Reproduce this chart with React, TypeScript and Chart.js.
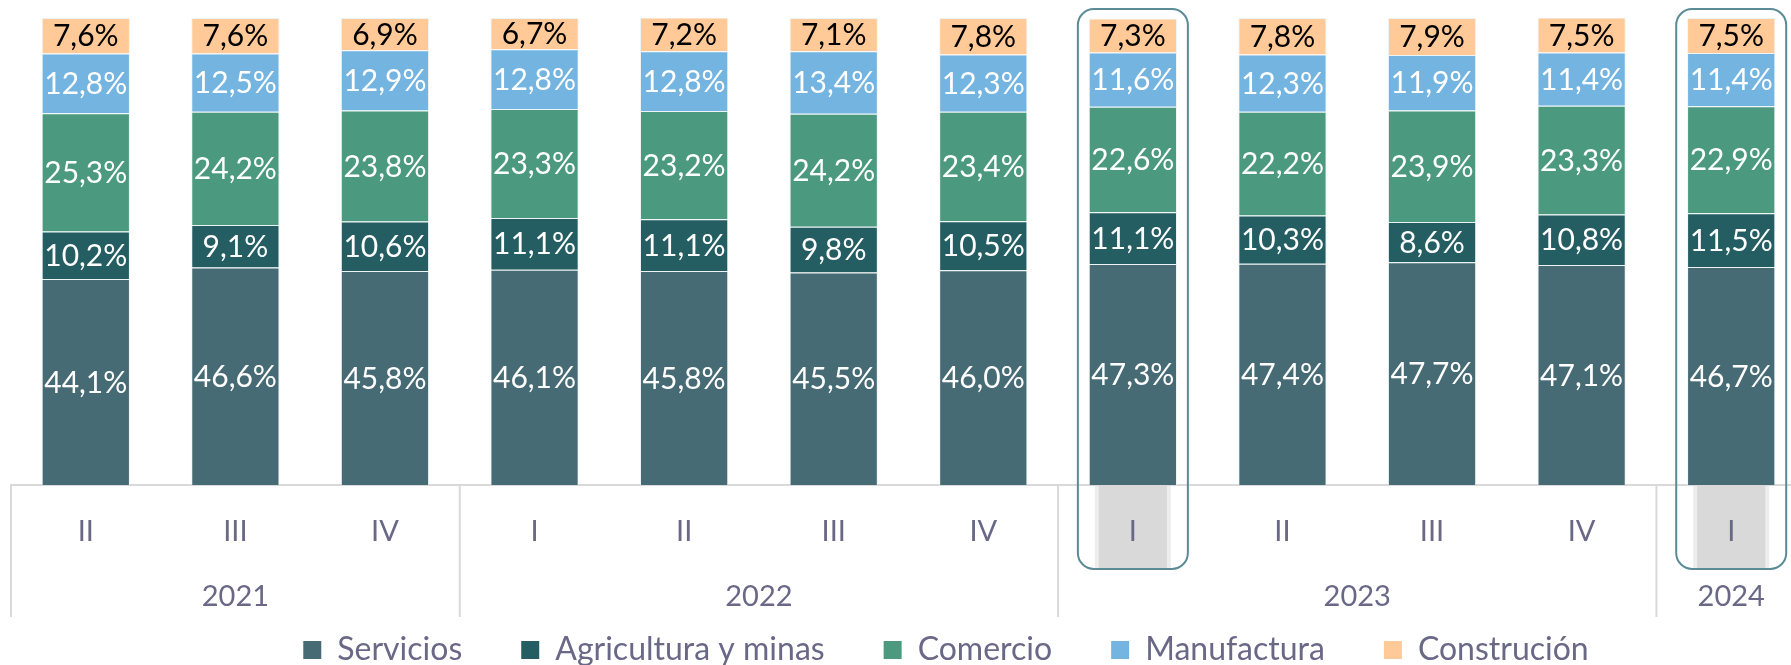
import React, { useEffect, useRef } from "react";
import { Chart, registerables } from "chart.js";

Chart.register(...registerables);

const quarters = ["II", "III", "IV", "I", "II", "III", "IV", "I", "II", "III", "IV", "I"];
const yearOfBar = ["2021", "2021", "2021", "2022", "2022", "2022", "2022", "2023", "2023", "2023", "2023", "2024"];
const years = ["2021", "2022", "2023", "2024"];

const servicios = [44.1, 46.6, 45.8, 46.1, 45.8, 45.5, 46.0, 47.3, 47.4, 47.7, 47.1, 46.7];
const agricultura = [10.2, 9.1, 10.6, 11.1, 11.1, 9.8, 10.5, 11.1, 10.3, 8.6, 10.8, 11.5];
const comercio = [25.3, 24.2, 23.8, 23.3, 23.2, 24.2, 23.4, 22.6, 22.2, 23.9, 23.3, 22.9];
const manufactura = [12.8, 12.5, 12.9, 12.8, 12.8, 13.4, 12.3, 11.6, 12.3, 11.9, 11.4, 11.4];
const construccion = [7.6, 7.6, 6.9, 6.7, 7.2, 7.1, 7.8, 7.3, 7.8, 7.9, 7.5, 7.5];

const seriesNames = ["Servicios", "Agricultura y minas", "Comercio", "Manufactura", "Construción"];
const seriesColors = ["#476b74", "#245e63", "#4b9a7f", "#74b4e1", "#ffca97"];
const labelColors = ["#ffffff", "#ffffff", "#ffffff", "#ffffff", "#000000"];
const highlighted = [7, 11];

const FONT = "'Century Gothic', Lato, sans-serif";
const TEXT = "#6b6887";
const GRID = "#d9d9d9";
const LEGEND_PAD = 59;

const fmt = (v: number) => v.toFixed(1).replace(".", ",") + "%";

const decoPlugin = {
  id: "deco",
  beforeDraw(chart: any) {
    const { ctx, chartArea, scales } = chart;
    const x = scales.x;
    ctx.save();
    highlighted.forEach((i) => {
      const cx = x.getPixelForValue(i);
      ctx.fillStyle = "#ededed";
      ctx.fillRect(cx - 38, chartArea.bottom + 1, 76, 82);
      ctx.fillStyle = "#d9d9d9";
      ctx.fillRect(cx - 34, chartArea.bottom + 1, 68, 82);
    });
    ctx.restore();
  },
  afterDatasetsDraw(chart: any) {
    const { ctx } = chart;
    ctx.save();
    ctx.font = `30px ${FONT}`;
    ctx.textAlign = "center";
    ctx.textBaseline = "middle";
    chart.data.datasets.forEach((ds: any, di: number) => {
      const meta = chart.getDatasetMeta(di);
      meta.data.forEach((el: any, j: number) => {
        const v = ds.data[j];
        ctx.fillStyle = labelColors[di];
        ctx.fillText(fmt(v), el.x, (el.y + el.base) / 2 + 1);
      });
    });
    ctx.restore();
  },
  afterDraw(chart: any) {
    const { ctx, chartArea, scales } = chart;
    const x = scales.x;
    const bottom = chartArea.bottom;
    ctx.save();
    ctx.strokeStyle = GRID;
    ctx.lineWidth = 2;
    for (let i = 0; i < yearOfBar.length; i++) {
      if (i === 0 || yearOfBar[i] !== yearOfBar[i - 1]) {
        const px = i === 0 ? chartArea.left : (x.getPixelForValue(i - 1) + x.getPixelForValue(i)) / 2;
        ctx.beginPath();
        ctx.moveTo(px, bottom);
        ctx.lineTo(px, bottom + 132);
        ctx.stroke();
      }
    }
    ctx.fillStyle = TEXT;
    ctx.font = `29px ${FONT}`;
    ctx.textAlign = "center";
    ctx.textBaseline = "middle";
    years.forEach((yr) => {
      const idx = yearOfBar.map((y, i) => (y === yr ? i : -1)).filter((i) => i >= 0);
      const px = idx.reduce((s, i) => s + x.getPixelForValue(i), 0) / idx.length;
      ctx.fillText(yr, px, bottom + 112);
    });
    ctx.strokeStyle = "#5b8b97";
    ctx.lineWidth = 2;
    highlighted.forEach((i) => {
      const cx = x.getPixelForValue(i);
      ctx.beginPath();
      (ctx as any).roundRect(cx - 55, chartArea.top - 9, 110, 560, 16);
      ctx.stroke();
    });
    ctx.restore();
  },
};

export default function App() {
  const ref = useRef<HTMLCanvasElement | null>(null);
  useEffect(() => {
    if (!ref.current) return;
    const data = [servicios, agricultura, comercio, manufactura, construccion];
    const chart = new Chart(ref.current, {
      type: "bar",
      data: {
        labels: quarters,
        datasets: data.map((d, i) => ({
          label: seriesNames[i],
          data: d,
          backgroundColor: seriesColors[i],
          borderColor: "rgba(235,242,244,0.85)",
          borderWidth: 1,
          barPercentage: 0.59,
          categoryPercentage: 1,
        })),
      },
      options: {
        animation: false,
        responsive: false,
        devicePixelRatio: 1,
        layout: { padding: { left: 11, top: 18, right: 0, bottom: 0 } },
        plugins: {
          tooltip: { enabled: false },
          legend: {
            position: "bottom",
            labels: {
              color: TEXT,
              font: { size: 32, family: FONT },
              boxWidth: 18,
              boxHeight: 18,
              padding: LEGEND_PAD,
              generateLabels: (c: any) =>
                c.data.datasets.map((ds: any, i: number) => ({
                  text: ds.label,
                  fillStyle: seriesColors[i],
                  strokeStyle: seriesColors[i],
                  lineWidth: 0,
                  fontColor: TEXT,
                  hidden: false,
                  datasetIndex: i,
                })),
            },
          },
        },
        scales: {
          x: {
            stacked: true,
            offset: true,
            grid: { display: false, drawTicks: false },
            border: { display: true, color: GRID, width: 2 },
            ticks: {
              color: TEXT,
              font: { size: 29, family: FONT },
              padding: 29,
              maxRotation: 0,
              autoSkip: false,
            },
            afterFit: (s: any) => {
              s.height = 149 - LEGEND_PAD;
            },
          },
          y: {
            stacked: true,
            min: 0,
            max: 100,
            position: "right",
            ticks: { display: false },
            grid: { display: false },
            border: { display: false },
            afterFit: (s: any) => {
              s.width = 75;
            },
          },
        },
      },
      plugins: [decoPlugin],
    } as any);
    return () => chart.destroy();
  }, []);
  return (
    <div style={{ position: "absolute", left: 0, top: 0, width: 1791, height: 665, overflow: "hidden", background: "#fff" }}>
      <canvas ref={ref} width={1881} height={676} style={{ display: "block" }} />
    </div>
  );
}
